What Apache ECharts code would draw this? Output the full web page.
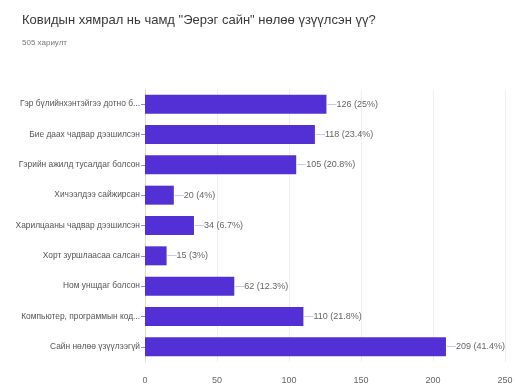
<!DOCTYPE html>
<html>
<head>
<meta charset="utf-8">
<script src="https://cdn.jsdelivr.net/npm/echarts@6/dist/echarts.min.js"></script>
<style>
  html, body { margin: 0; padding: 0; background: #fff; }
  #chart { width: 515px; height: 388px; }
</style>
</head>
<body>
<div id="chart"></div>
<script>
// Survey answers, listed top to bottom
const categories = [
  'Гэр бүлийнхэнтэйгээ дотно б...',
  'Бие даах чадвар дээшилсэн',
  'Гэрийн ажилд тусалдаг болсон',
  'Хичээлдээ сайжирсан',
  'Харилцааны чадвар дээшилсэн',
  'Хорт зуршлаасаа салсан',
  'Ном уншдаг болсон',
  'Компьютер, программын код...',
  'Сайн нөлөө үзүүлээгүй'
];
const counts = [126, 118, 105, 20, 34, 15, 62, 110, 209];
const percents = ['25%', '23.4%', '20.8%', '4%', '6.7%', '3%', '12.3%', '21.8%', '41.4%'];
const xTicks = [0, 50, 100, 150, 200, 250];

const titleText = 'Ковидын хямрал нь чамд "Эерэг сайн" нөлөө үзүүлсэн үү?';
const subtitleText = '505 хариулт';

const FONT = '"Liberation Sans", Arial, sans-serif';
const BAR = '#5230d6';

const chart = echarts.init(document.getElementById('chart'));
chart.setOption({
  animation: false,
  backgroundColor: '#fff',
  title: {
    text: titleText,
    subtext: subtitleText,
    left: 17,
    top: 9,
    itemGap: 12,
    textStyle: { fontFamily: FONT, fontSize: 13, fontWeight: 'normal', color: '#3a3a3a' },
    subtextStyle: { fontFamily: FONT, fontSize: 8, color: '#777' }
  },
  grid: { left: 145, right: 10, top: 89, bottom: 26, outerBoundsMode: 'none' },
  xAxis: {
    type: 'value',
    min: xTicks[0],
    max: xTicks[xTicks.length - 1],
    interval: 50,
    axisLine: { show: false },
    axisTick: { show: false },
    axisLabel: { fontFamily: FONT, fontSize: 9, color: '#666', margin: 14 },
    splitLine: { lineStyle: { color: '#eeeeee' } }
  },
  yAxis: {
    type: 'category',
    inverse: true,
    data: categories,
    axisLine: { lineStyle: { color: '#e3dcc0' } },
    axisTick: { show: true, alignWithLabel: true, length: 4, lineStyle: { color: '#9a86e6' } },
    axisLabel: { fontFamily: FONT, fontSize: 8.4, color: '#555', margin: 5 }
  },
  series: [{
    type: 'bar',
    data: counts,
    barWidth: 19,
    itemStyle: { color: BAR },
    label: {
      show: true,
      position: 'right',
      distance: 1,
      fontFamily: FONT,
      fontSize: 9,
      color: '#666',
      formatter: p => '{d|—}' + p.value + ' (' + percents[p.dataIndex] + ')',
      rich: { d: { color: '#b3a6ee', fontSize: 9 } }
    }
  }]
});
</script>
</body>
</html>
